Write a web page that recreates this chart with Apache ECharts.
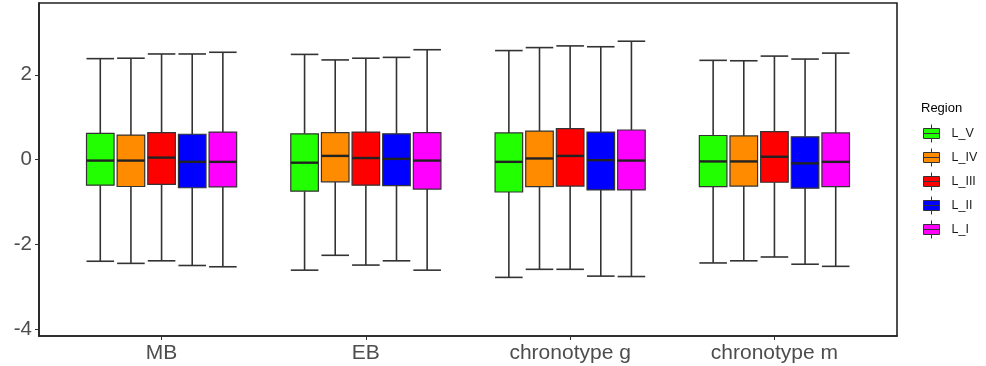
<!DOCTYPE html>
<html>
<head>
<meta charset="utf-8">
<script src="https://cdn.jsdelivr.net/npm/echarts@6/dist/echarts.min.js"></script>
<style>html,body{margin:0;padding:0;background:#fff}#c{width:986px;height:366px}</style>
</head>
<body>
<div id="c"></div>
<script>
// ---- data ----
const categories = ['MB', 'EB', 'chronotype g', 'chronotype m'];
const regions = ['L_V', 'L_IV', 'L_III', 'L_II', 'L_I'];
const regionColors = ['#22FF00', '#FF8C00', '#FF0000', '#0000FF', '#FF00FF'];
const yTicks = [-4, -2, 0, 2];
// each entry: [lower whisker, Q1, median, Q3, upper whisker] per category
const L_V   = [[-2.39, -0.60, -0.02, 0.62, 2.38], [-2.60, -0.74, -0.07, 0.61, 2.48], [-2.77, -0.76, -0.05, 0.63, 2.57], [-2.43, -0.635, -0.04, 0.57, 2.34]];
const L_IV  = [[-2.44, -0.63, -0.02, 0.58, 2.39], [-2.25, -0.52, 0.09, 0.64, 2.35], [-2.58, -0.635, 0.03, 0.675, 2.64], [-2.38, -0.62, -0.04, 0.56, 2.33]];
const L_III = [[-2.38, -0.58, 0.05, 0.64, 2.49], [-2.48, -0.60, 0.04, 0.65, 2.39], [-2.58, -0.62, 0.09, 0.73, 2.68], [-2.29, -0.53, 0.07, 0.66, 2.44]];
const L_II  = [[-2.49, -0.66, -0.05, 0.60, 2.49], [-2.38, -0.61, 0.02, 0.61, 2.41], [-2.74, -0.71, -0.01, 0.65, 2.66], [-2.46, -0.67, -0.085, 0.54, 2.37]];
const L_I   = [[-2.52, -0.64, -0.05, 0.65, 2.53], [-2.60, -0.69, -0.02, 0.64, 2.59], [-2.75, -0.71, -0.02, 0.70, 2.79], [-2.51, -0.635, -0.05, 0.63, 2.51]];
const regionValues = [L_V, L_IV, L_III, L_II, L_I];

// ---- chart ----
const chart = echarts.init(document.getElementById('c'), null, {renderer: 'canvas'});
const dodge = 0.15, boxW = 0.135;

function makeRender(offset) {
  return function (params, api) {
    const xc = api.value(0) + offset;
    const lo = api.value(1), q1 = api.value(2), md = api.value(3), q3 = api.value(4), hi = api.value(5);
    const cx = api.coord([xc, 0])[0];
    const w = api.size([boxW, 0])[0];
    const yLo = api.coord([xc, lo])[1], yQ1 = api.coord([xc, q1])[1], yMd = api.coord([xc, md])[1];
    const yQ3 = api.coord([xc, q3])[1], yHi = api.coord([xc, hi])[1];
    const lineStyle = {stroke: '#333333', lineWidth: 1.6};
    return {
      type: 'group',
      children: [
        {type: 'line', shape: {x1: cx, y1: yHi, x2: cx, y2: yQ3}, style: lineStyle},
        {type: 'line', shape: {x1: cx, y1: yQ1, x2: cx, y2: yLo}, style: lineStyle},
        {type: 'line', shape: {x1: cx - w / 2, y1: yHi, x2: cx + w / 2, y2: yHi}, style: lineStyle},
        {type: 'line', shape: {x1: cx - w / 2, y1: yLo, x2: cx + w / 2, y2: yLo}, style: lineStyle},
        {type: 'rect', shape: {x: cx - w / 2, y: yQ3, width: w, height: yQ1 - yQ3},
          style: {fill: api.visual('color'), stroke: '#333333', lineWidth: 1.2}},
        {type: 'line', shape: {x1: cx - w / 2, y1: yMd, x2: cx + w / 2, y2: yMd},
          style: {stroke: '#222222', lineWidth: 2.4}}
      ]
    };
  };
}

const series = regions.map((name, i) => ({
  name: name,
  type: 'custom',
  renderItem: makeRender((i - 2) * dodge),
  itemStyle: {color: regionColors[i]},
  encode: {x: 0, y: [1, 2, 3, 4, 5]},
  data: regionValues[i].map((v, ci) => [ci + 1].concat(v)),
  clip: false
}));

chart.setOption({
  animation: false,
  backgroundColor: '#ffffff',
  title: {
    text: 'Region', left: 921, top: 102, padding: 0,
    textStyle: {fontFamily: 'Liberation Sans', fontSize: 13, fontWeight: 'normal', color: '#000'}
  },
  legend: {
    orient: 'vertical', left: 923, top: 124, padding: 0,
    itemWidth: 16, itemHeight: 18, itemGap: 5,
    icon: 'path://M0,4H16V14H0Z M0,9H16 M8,0V4 M8,14V18',
    itemStyle: {borderColor: '#333333', borderWidth: 1},
    textStyle: {fontFamily: 'Liberation Sans', fontSize: 12.5, color: '#1a1a1a', padding: [0, 0, 0, 7]},
    data: regions
  },
  grid: {left: 39, top: 3, right: 89, bottom: 30, show: true, borderColor: '#222', borderWidth: 1.6, backgroundColor: 'transparent'},
  xAxis: {
    type: 'value', min: 0.4, max: 4.6,
    splitLine: {show: false},
    axisLine: {show: true, onZero: false, lineStyle: {color: '#222', width: 1.6}},
    axisTick: {show: true, length: 4, lineStyle: {color: '#333'}, customValues: categories.map((c, i) => i + 1)},
    axisLabel: {
      customValues: categories.map((c, i) => i + 1),
      formatter: v => categories[Math.round(v) - 1] || '',
      fontFamily: 'Liberation Sans', fontSize: 21, color: '#4d4d4d', margin: 7
    }
  },
  yAxis: {
    type: 'value', min: -4.15, max: 3.69,
    splitLine: {show: false},
    axisLine: {show: true, onZero: false, lineStyle: {color: '#222', width: 1.6}},
    axisTick: {show: true, length: 4, lineStyle: {color: '#333'}, customValues: yTicks},
    axisLabel: {
      customValues: yTicks,
      fontFamily: 'Liberation Sans', fontSize: 20.5, color: '#4d4d4d', margin: 7
    }
  },
  series: series
});
</script>
</body>
</html>
